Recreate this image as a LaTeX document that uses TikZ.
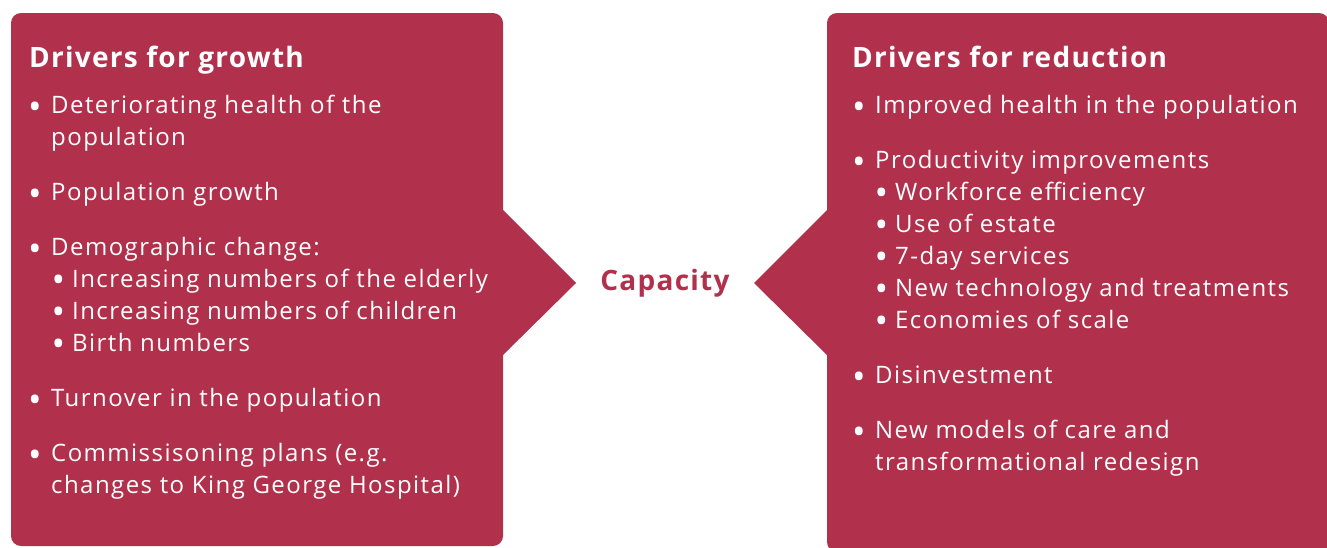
\documentclass[tikz,border=0pt]{standalone}
\usepackage{fontspec}
\setmainfont{Open Sans}[LetterSpace=6]
\newfontfamily\headfont{Open Sans}[LetterSpace=4.5]
\definecolor{capred}{RGB}{177,49,77}
\newcommand{\bul}{\llap{\raisebox{-6.3pt}{\scalebox{1.5}{\textbullet}}\hspace{9.6pt}}}
\newcommand{\subbul}{\llap{\raisebox{-5.3pt}{\scalebox{1.5}{\textbullet}}\hspace{7pt}}}
\begin{document}
\begin{tikzpicture}[x=1pt,y=-1pt,
    title/.style={anchor=base west, white, inner sep=0pt, font=\headfont\fontsize{28}{32}\selectfont\bfseries},
    item/.style={anchor=base west, white, inner sep=0pt, font=\fontsize{24}{32}\selectfont}]
    \useasboundingbox (0,0) rectangle (1327,547);
    % the two boxes with their arrow tips
    \fill [capred, rounded corners=10] (11,13) rectangle (503,546);
    \fill [capred] (503,210) -- (576,283) -- (503,355) -- cycle;
    \fill [capred, rounded corners=10] (827,13) rectangle (1329,552);
    \fill [capred] (827,210) -- (754,283) -- (827,355) -- cycle;
    \node [font=\headfont\fontsize{28}{32}\selectfont\bfseries, capred] (capacity) at (665,283) {Capacity};
    % growth
    \node [title] (growth) at (29,67) {Drivers for growth};
    \node [item] (g1) at (51,113) {\bul Deteriorating health of the};
    \node [item] (g1b) at (51,145) {population};
    \node [item] (g2) at (51,200) {\bul Population growth};
    \node [item] (g3) at (51,255) {\bul Demographic change:};
    \node [item] (g3a) at (72,287) {\subbul Increasing numbers of the elderly};
    \node [item] (g3b) at (72,319) {\subbul Increasing numbers of children};
    \node [item] (g3c) at (72,351) {\subbul Birth numbers};
    \node [item] (g4) at (51,406) {\bul Turnover in the population};
    \node [item] (g5) at (51,461) {\bul Commissisoning plans (e.g.};
    \node [item] (g5b) at (51,493) {changes to King George Hospital)};
    % reduction
    \node [title] (reduction) at (852,67) {Drivers for reduction};
    \node [item] (r1) at (875,113) {\bul Improved health in the population};
    \node [item] (r2) at (875,168) {\bul Productivity improvements};
    \node [item] (r2a) at (895,200) {\subbul Workforce efficiency};
    \node [item] (r2b) at (895,232) {\subbul Use of estate};
    \node [item] (r2c) at (895,264) {\subbul 7-day services};
    \node [item] (r2d) at (895,296) {\subbul New technology and treatments};
    \node [item] (r2e) at (895,328) {\subbul Economies of scale};
    \node [item] (r3) at (875,383) {\bul Disinvestment};
    \node [item] (r4) at (875,438) {\bul New models of care and};
    \node [item] (r4b) at (875,470) {transformational redesign};
\end{tikzpicture}
\end{document}
